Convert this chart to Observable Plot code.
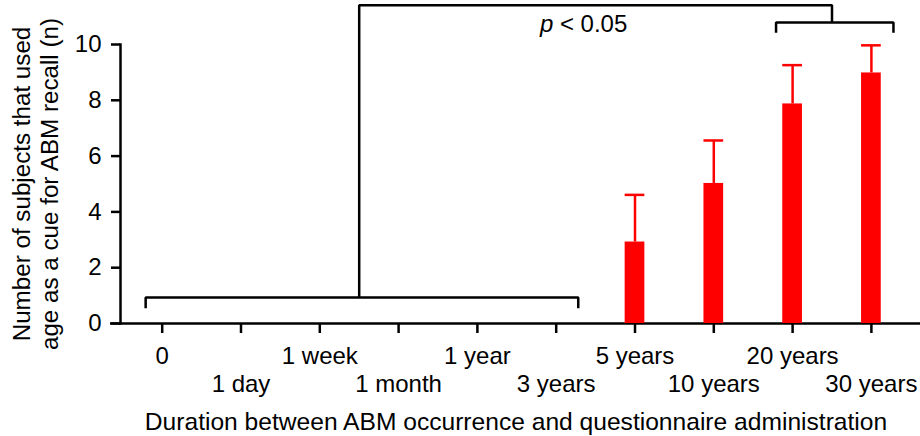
<!DOCTYPE html>
<html>
<head>
<meta charset="utf-8">
<script src="https://cdn.jsdelivr.net/npm/d3@7"></script>
<script src="https://cdn.jsdelivr.net/npm/@observablehq/plot@0.6"></script>
<style>
  html, body { margin: 0; padding: 0; background: #ffffff; }
  #chart svg { display: block; }
</style>
</head>
<body>
<div id="chart"></div>
<script>
// ---- data ----
const categories = ["0", "1 day", "1 week", "1 month", "1 year", "3 years", "5 years", "10 years", "20 years", "30 years"];
const means      = [0, 0, 0, 0, 0, 0, 2.92, 5.02, 7.87, 8.98];
const errorTops  = [null, null, null, null, null, null, 4.61, 6.56, 9.26, 9.97];
const yTicks     = [0, 2, 4, 6, 8, 10];
const groupShort = ["0", "1 day", "1 week", "1 month", "1 year", "3 years"];
const groupLong  = ["20 years", "30 years"];
const bracketLevels = [0.93, 10.79];   // horizontal level of each group bracket
const bracketDrops  = [0.55, 10.42];   // end of the bracket legs
const bridgeLevel   = 11.41;           // level of the connecting bracket
const pLabelLevel   = 10.72;
const xTitle  = "Duration between ABM occurrence and questionnaire administration";
const yTitle1 = "Number of subjects that used";
const yTitle2 = "age as a cue for ABM recall (n)";
const pText   = "p < 0.05";

// ---- derived tables ----
const idx = categories.map((c, i) => i);
const rows = categories.map((c, i) => ({i, category: c, mean: means[i], top: errorTops[i]}))
  .filter(d => d.mean > 0);

const half = 0.125;      // half bar width (in category steps)
const padL = 0.21, padR = 0.28;
const groups = [groupShort, groupLong].map((g, k) => {
  const a = categories.indexOf(g[0]), b = categories.indexOf(g[g.length - 1]);
  return {k, a, b, mid: (a + b) / 2, level: bracketLevels[k], drop: bracketDrops[k]};
});
const bracketPts = [];
for (const g of groups) {
  bracketPts.push({id: "g" + g.k, x: g.a - padL, y: g.drop});
  bracketPts.push({id: "g" + g.k, x: g.a - padL, y: g.level});
  bracketPts.push({id: "g" + g.k, x: g.b + padR, y: g.level});
  bracketPts.push({id: "g" + g.k, x: g.b + padR, y: g.drop});
}
const [gA, gB] = groups;
bracketPts.push({id: "bridge", x: gA.mid, y: gA.level});
bracketPts.push({id: "bridge", x: gA.mid, y: bridgeLevel});
bracketPts.push({id: "bridge", x: gB.mid, y: bridgeLevel});
bracketPts.push({id: "bridge", x: gB.mid, y: gB.level});

const RED = "#ff0000";
const FONT = "'Liberation Sans', Arial, Helvetica, sans-serif";
const LW = 2.5;

const plot = Plot.plot({
  width: 920,
  height: 436,
  marginLeft: 120,
  marginRight: 0,
  marginTop: 44,
  marginBottom: 113,
  style: {fontFamily: FONT, fontSize: "24px", color: "#000", background: "#fff"},
  x: {type: "linear", domain: [-0.5, categories.length - 0.5], range: [122.3, 910.3], axis: null},
  y: {domain: [0, 10], axis: null},
  marks: [
    Plot.frame({anchor: "left", stroke: "#000", strokeWidth: LW}),
    Plot.ruleY([0], {stroke: "#000", strokeWidth: LW, insetLeft: -10}),
    Plot.axisY({ticks: yTicks, tickSize: 9, tickPadding: 10, strokeWidth: LW, fontSize: 24, label: null, tickFormat: d => String(d)}),
    Plot.axisX({ticks: idx, tickSize: 10, tickPadding: 13, strokeWidth: LW, fontSize: 24, label: null,
      tickFormat: i => (i % 2 === 0 ? categories[i] : "")}),
    Plot.axisX({ticks: idx.filter(i => i % 2 === 1), tickSize: 0, tickPadding: 51, fontSize: 24, label: null,
      tickFormat: i => categories[i]}),
    Plot.rectY(rows, {x1: d => d.i - half, x2: d => d.i + half, y: "mean", fill: RED}),
    Plot.ruleX(rows, {x: "i", y1: "mean", y2: "top", stroke: RED, strokeWidth: 2.5}),
    Plot.ruleY(rows, {y: "top", x1: d => d.i - half, x2: d => d.i + half, stroke: RED, strokeWidth: 2.5}),
    Plot.line(bracketPts, {x: "x", y: "y", z: "id", stroke: "#000", strokeWidth: LW,
      strokeLinejoin: "miter", strokeLinecap: "butt"}),
    Plot.text([pText], {x: () => (gA.mid + gB.mid) / 2, y: () => pLabelLevel, dx: -12, fontSize: 24, fill: "#000"}),
    Plot.text([xTitle], {frameAnchor: "bottom", dy: 106, dx: -4.5, fontSize: 24.6, fill: "#000"}),
    Plot.text([yTitle1], {frameAnchor: "left", textAnchor: "middle", rotate: -90, dx: -98.5, fontSize: 24.2, fill: "#000"}),
    Plot.text([yTitle2], {frameAnchor: "left", textAnchor: "middle", rotate: -90, dx: -70.6, fontSize: 24.2, fill: "#000"})
  ]
});

d3.select(plot).selectAll("text")
  .filter(function () { return this.textContent === pText; })
  .each(function () {
    const t = d3.select(this);
    t.text(null);
    t.append("tspan").attr("font-style", "italic").text("p");
    t.append("tspan").text(" < 0.05");
  });

document.getElementById("chart").appendChild(plot);
</script>
</body>
</html>
